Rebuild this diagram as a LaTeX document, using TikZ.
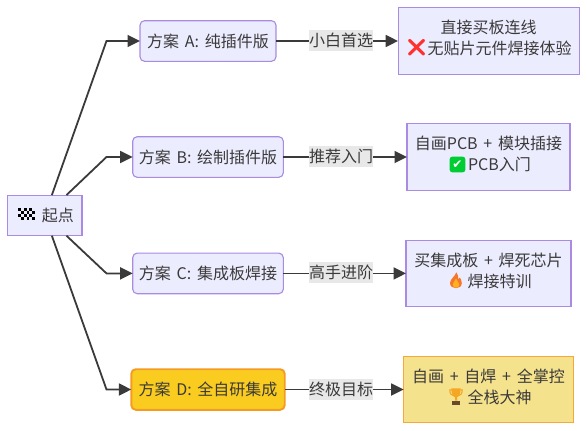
\documentclass[tikz,border=0pt]{standalone}
\usepackage{fontspec}
\setmainfont[WordSpace=1.6]{Noto Sans CJK SC}
\newfontfamily\emo{Noto Emoji}
\newfontfamily\djv{DejaVu Sans}
\usetikzlibrary{arrows.meta}
\definecolor{nfill}{HTML}{ECECFF}
\definecolor{nline}{HTML}{A98BE3}
\definecolor{ink}{HTML}{3A3A3A}
\definecolor{gold}{HTML}{FACC1F}
\definecolor{goldline}{HTML}{F59A23}
\definecolor{pale}{HTML}{F5E28C}
\definecolor{paleline}{HTML}{F7A83C}
\definecolor{lab}{HTML}{E8E8E8}
\definecolor{flameout}{HTML}{F4772A}
\definecolor{flamein}{HTML}{FFB020}
\definecolor{cup}{HTML}{F5A623}
\definecolor{cupbase}{HTML}{6B4A2B}
\tikzset{
 x=1pt,y=-1pt,
 every node/.style={font=\fontsize{16}{21}\selectfont,text=ink,inner sep=0pt,outer sep=0pt},
 plan/.style={draw=nline,fill=nfill,line width=1.1pt,rounded corners=4.5pt,align=center,minimum height=40.6pt},
 result/.style={draw=nline,fill=nfill,line width=1.1pt,align=center,minimum height=66.3pt},
 goldplan/.style={plan,draw=goldline,fill=gold,line width=1.9pt},
 goldresult/.style={result,draw=paleline,fill=pale,line width=1.3pt},
 rtext/.style={align=center,yshift=2.6pt},
 elabel/.style={fill=lab,minimum height=21pt,minimum width=64pt},
 link/.style={draw=ink,line width=1.8pt,-{Triangle[length=12.5pt,width=12pt]}},
 emoji/.style={font=\emo\fontsize{17}{17}\selectfont},
}
\newcommand{\gap}{\hspace*{22pt}}
\begin{document}
\begin{tikzpicture}
\useasboundingbox (0,0) rectangle (587,431);
\node[plan,rounded corners=0pt,minimum width=74.3pt] (s) at (44.85,215.4) {\hspace*{26pt}起点};
\node[plan,minimum width=136pt] (pa) at (208,41) {方案 A: 纯插件版};
\node[plan,minimum width=150.6pt] (pb) at (208,157) {方案 B: 绘制插件版};
\node[plan,minimum width=150.6pt] (pc) at (208,273.4) {方案 C: 集成板焊接};
\node[goldplan,minimum width=153.4pt] (pd) at (208,389.5) {方案 D: 全自研集成};
\node[result,minimum width=181.3pt] (ra) at (488.7,41) {};
\node[result,minimum width=163pt] (rb) at (488.5,157) {};
\node[result,minimum width=165pt] (rc) at (488.5,273.4) {};
\node[goldresult,minimum width=169.6pt] (rd) at (488.5,389.5) {};
\node[rtext] (ta) at (ra.center) {直接买板连线\\\gap 无贴片元件焊接体验};
\node[rtext] (tb) at (rb.center) {自画PCB + 模块插接\\\gap PCB入门};
\node[rtext] (tc) at (rc.center) {买集成板 + 焊死芯片\\\gap 焊接特训};
\node[rtext] (td) at (rd.center) {自画 + 自焊 + 全掌控\\\gap 全栈大神};
\coordinate (ja) at (106.5,41);
\coordinate (jb) at (106.5,157);
\coordinate (jc) at (106.5,273.4);
\coordinate (jd) at (106.5,389.5);
\draw[link] ([xshift=7pt]s.north) -- (ja) -- (pa.west);
\draw[link] ([xshift=21.6pt]s.north) -- (jb) -- (pb.west);
\draw[link] ([xshift=21.6pt]s.south) -- (jc) -- (pc.west);
\draw[link] ([xshift=7pt]s.south) -- (jd) -- (pd.west);
\draw[link] (pa) -- (ra);
\draw[link] (pb) -- (rb);
\draw[link] (pc) -- (rc);
\draw[link] (pd) -- (rd);
\node[elabel] (la) at (341,40.5) {小白首选};
\node[elabel] (lb) at (341,156.5) {推荐入门};
\node[elabel] (lc) at (341,272.9) {高手进阶};
\node[elabel] (ld) at (341,389) {终极目标};
% start flag: checker pattern
\foreach \r in {0,1,2,3}{\foreach \c in {0,1,2,3,4,5}{
  \pgfmathparse{int(mod(\r+\c,2))}
  \ifnum\pgfmathresult=0 \fill[black] (18.3+\c*2.78,208.4+\r*2.9) rectangle ++(2.78,2.9);\fi
}}
\node[emoji,text=red!75!pink] (e1) at (416.7,47.5) {❌};
\node[fill=green!60!teal,rounded corners=2.5pt,minimum size=15.6pt,text=white,font=\djv\fontsize{12}{12}\selectfont] (e2) at (457.5,164.5) {✔};
% flame
\fill[flameout] (456.3,272.3) .. controls (455.5,276) and (450,279) .. (450,283) .. controls (450,286.5) and (453,288.2) .. (456,288.2) .. controls (459,288.2) and (461.8,286.5) .. (461.8,283) .. controls (461.8,280.5) and (460.5,278.5) .. (459.8,277.5) .. controls (459.5,278.5) and (459,279.2) .. (458.3,279.5) .. controls (458.6,277) and (458,274) .. (456.3,272.3);
\fill[flamein] (456,278.5) .. controls (455.5,281) and (452.7,282.5) .. (452.7,284.5) .. controls (452.7,286.5) and (454.3,287.6) .. (456,287.6) .. controls (457.7,287.6) and (459.3,286.5) .. (459.3,284.5) .. controls (459.3,282.5) and (456.8,281) .. (456,278.5);
% trophy
\draw[cup,line width=1.1pt] (451.5,390) -- (449.8,390) .. controls (449.8,393.5) and (451,395) .. (453,395.5);
\draw[cup,line width=1.1pt] (460.5,390) -- (462.2,390) .. controls (462.2,393.5) and (461,395) .. (459,395.5);
\fill[cup] (451.3,388.4) -- (460.7,388.4) .. controls (460.7,394) and (458.7,396.8) .. (457,397.3) -- (457,400.5) -- (455,400.5) -- (455,397.3) .. controls (453.3,396.8) and (451.3,394) .. (451.3,388.4);
\fill[cupbase] (452.3,400.7) rectangle (459.7,405);
\end{tikzpicture}
\end{document}
